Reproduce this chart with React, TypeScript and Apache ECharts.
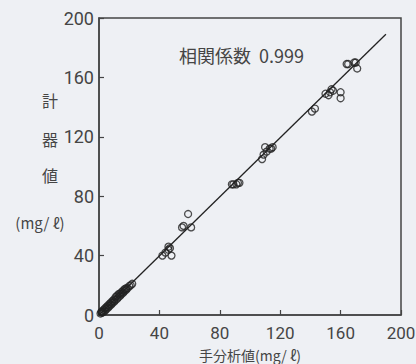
import React, { useEffect, useRef } from "react";
import * as echarts from "echarts";

const xTicks = [0, 40, 80, 120, 160, 200];
const corrLabel = "相関係数  0.999";
const xTitle = "手分析値(mg/ ℓ)";
const yTitleChars = ["計", "器", "値"];
const yUnit = "(mg/ ℓ)";

// [manual analysis value, instrument value]
const lowPoints: number[][] = [
  [1, 1], [1.5, 2], [2, 1.5], [2, 2.5], [3, 2], [3, 3.5], [4, 3], [4, 4.5], [5, 4], [5, 5.5],
  [6, 5], [6, 6.5], [7, 6], [7, 7.5], [8, 7], [8, 8.5], [9, 8], [9, 9.5], [10, 9],
  [10, 10.5], [11, 10], [11, 12], [12, 11], [12, 13], [13, 12], [13, 14], [14, 14.5],
  [14, 13], [15, 15.5], [15, 14], [16, 16.5], [16, 15], [17, 16], [17, 17.5], [18, 17],
  [18, 18], [19, 18], [20, 19.5], [21, 20], [22, 21],
];
const midPoints: number[][] = [
  [42, 40], [44, 42], [46, 44], [46, 46], [47, 45], [48, 40],
  [55, 59], [56, 60], [59, 68], [61, 59],
  [88, 88], [89, 88], [91, 88], [92, 89], [93, 89],
];
const highPoints: number[][] = [
  [108, 105], [109, 108], [110, 113], [111, 110], [113, 112], [114, 112], [115, 113],
  [141, 137], [143, 139],
  [150, 149], [152, 148], [153, 150], [154, 152], [155, 151], [160, 150], [160, 146],
  [164, 169], [165, 169], [169, 170], [170, 170], [171, 166],
];
const fitLine: number[][] = [[0, 0], [190, 189]];

export default function App() {
  const ref = useRef<HTMLDivElement>(null);
  useEffect(() => {
    if (!ref.current) return;
    const chart = echarts.init(ref.current, undefined, { renderer: "svg" });
    const textColor = "#454545";
    const numFont = "Roboto";
    const jpFont = "Noto Sans CJK JP";
    const axisCommon = {
      type: "value" as const,
      min: 0,
      max: 200,
      interval: 40,
      axisLine: { show: true, lineStyle: { color: "#444", width: 1.5 } },
      axisTick: { show: true, inside: true, length: 5, lineStyle: { color: "#444", width: 1.2 } },
      splitLine: { show: false },
    };
    chart.setOption({
      animation: false,
      backgroundColor: "#eef0f4",
      grid: {
        left: 99,
        top: 18,
        right: 15,
        bottom: 49,
        containLabel: false,
        outerBoundsMode: "none",
        show: true,
        borderColor: "#444",
        borderWidth: 1.5,
        backgroundColor: "transparent",
      },
      xAxis: {
        ...axisCommon,
        axisLabel: {
          color: textColor,
          fontSize: 17,
          lineHeight: 17,
          fontFamily: numFont,
          margin: 9,
          formatter: (v: number) => (xTicks.includes(v) ? String(v) : ""),
        },
      },
      yAxis: {
        ...axisCommon,
        axisLabel: { color: textColor, fontSize: 18, fontFamily: numFont, margin: 5 },
      },
      graphic: [
        {
          type: "text",
          left: 179,
          top: 46,
          style: { text: corrLabel, fill: textColor, font: `18px "${jpFont}"` },
        },
        {
          type: "text",
          x: 250,
          y: 355,
          style: {
            text: xTitle,
            fill: textColor,
            font: `14px "${jpFont}"`,
            align: "center",
            verticalAlign: "middle",
          },
        },
        ...yTitleChars.map((c, i) => ({
          type: "text",
          x: 50,
          y: [100, 139, 175][i],
          style: {
            text: c,
            fill: textColor,
            font: `16px "${jpFont}"`,
            align: "center",
            verticalAlign: "middle",
          },
        })),
        {
          type: "text",
          x: 40,
          y: 222,
          style: {
            text: yUnit,
            fill: textColor,
            font: `15px "${jpFont}"`,
            align: "center",
            verticalAlign: "middle",
          },
        },
      ],
      series: [
        {
          type: "line",
          data: fitLine,
          symbol: "none",
          lineStyle: { color: "#222", width: 1.3 },
          z: 1,
        },
        {
          type: "scatter",
          data: [...lowPoints, ...midPoints, ...highPoints],
          symbol: "circle",
          symbolSize: 7,
          itemStyle: { color: "rgba(0,0,0,0)", borderColor: "#222", borderWidth: 1.3 },
          z: 2,
        },
      ],
    });
    return () => chart.dispose();
  }, []);
  return (
    <div
      ref={ref}
      style={{ position: "fixed", left: 0, top: 0, width: 416, height: 364 }}
    />
  );
}
